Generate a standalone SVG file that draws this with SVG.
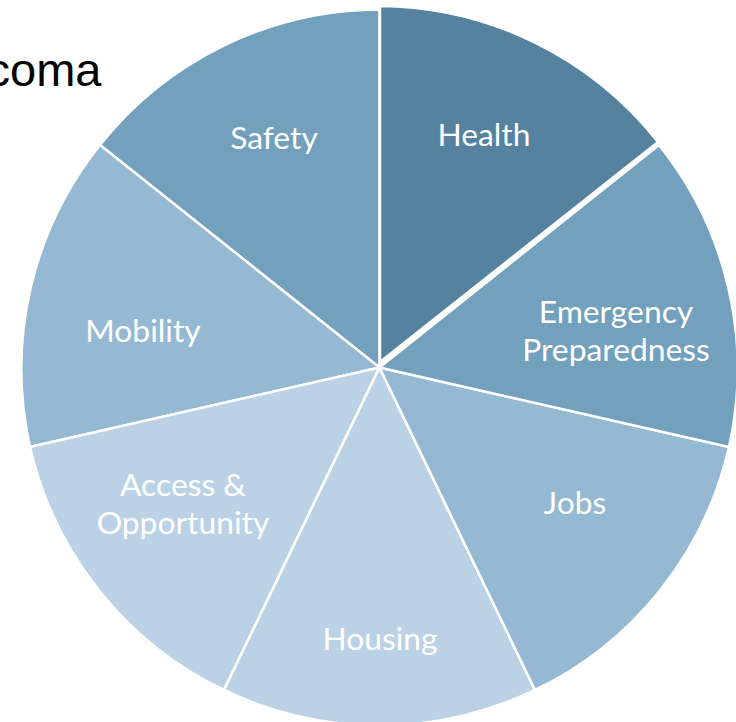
<svg xmlns="http://www.w3.org/2000/svg" width="736" height="722" viewBox="0 0 736 722">
<style>
.s{stroke:#fff;stroke-width:2.5;stroke-linejoin:miter}
.l{font-family:"Lato","Carlito","Open Sans",sans-serif;font-size:31.8px;fill:#fff;text-anchor:middle}
.a{fill:#54829f}.b{fill:#72a0bd}.c{fill:#95b9d3}.d{fill:#bbd2e6}
</style>
<rect width="736" height="722" fill="#fff"/>
<text id="title" x="101.500" y="86" font-family="Liberation Sans, Arial, sans-serif" font-size="47" text-anchor="end" fill="#000">coma</text>
<g id="safety"><path class="s b" d="M379.500 367.500L100 145A358 358 0 0 1 379.500 9.500Z"/><text class="l" x="274" y="149">Safety</text></g>
<g id="mobility"><path class="s c" d="M379.500 367.500L30 447A358 358 0 0 1 100 145Z"/><text class="l" x="143" y="342">Mobility</text></g>
<g id="access"><path class="s d" d="M379.500 367.500L224 690A358 358 0 0 1 30 447Z"/><text class="l" x="183" y="496">Access &amp;</text><text class="l" x="183" y="534">Opportunity</text></g>
<g id="housing"><path class="s d" d="M379.500 367.500L535 690A358 358 0 0 1 224 690Z"/><text class="l" x="380" y="650">Housing</text></g>
<g id="jobs"><path class="s c" d="M379.500 367.500L729 447A358 358 0 0 1 535 690Z"/><text class="l" x="575" y="514">Jobs</text></g>
<g id="emergency"><path class="s b" d="M379.500 367.500L659 145A358 358 0 0 1 729 447Z"/><text class="l" x="616" y="323">Emergency</text><text class="l" x="616" y="361">Preparedness</text></g>
<g id="health"><path class="s a" d="M380 362L658 142A358 358 0 0 0 380 6Z"/><text class="l" x="484" y="146">Health</text></g>
<g id="connectors"/>
</svg>
